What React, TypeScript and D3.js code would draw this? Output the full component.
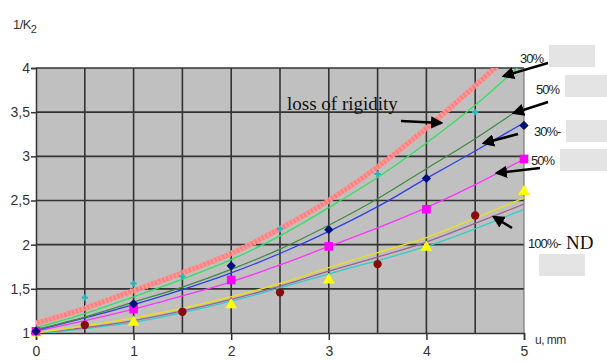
import React, { useEffect, useRef } from 'react';
import * as d3 from 'd3';

// x positions where the curves are read (u, mm)
const uSteps = [0, 0.5, 1, 1.5, 2, 2.5, 3, 3.5, 4, 4.5, 5];

// fitted curves (1/K2)
const lossOfRigidity = [1.11, 1.28, 1.48, 1.68, 1.9, 2.18, 2.5, 2.88, 3.32, 3.8, 4.3];
const green30 = [1.06, 1.22, 1.41, 1.61, 1.83, 2.1, 2.42, 2.76, 3.15, 3.58, 4.07];
const green50 = [1.04, 1.18, 1.35, 1.52, 1.72, 1.95, 2.22, 2.52, 2.86, 3.2, 3.57];
const blue30 = [1.03, 1.17, 1.32, 1.49, 1.68, 1.9, 2.15, 2.43, 2.75, 3.06, 3.38];
const magenta50 = [1.02, 1.14, 1.27, 1.42, 1.58, 1.77, 1.98, 2.19, 2.42, 2.68, 2.97];
const yellowND = [1.0, 1.08, 1.17, 1.28, 1.41, 1.56, 1.74, 1.91, 2.08, 2.3, 2.53];
const mauveND = [1.0, 1.06, 1.14, 1.25, 1.38, 1.53, 1.7, 1.86, 2.03, 2.24, 2.46];
const cyanND = [0.99, 1.05, 1.12, 1.23, 1.36, 1.51, 1.67, 1.82, 1.98, 2.18, 2.4];

// measured points
const diamondU = [0, 1, 2, 3, 4, 5];
const diamondV = [1.02, 1.33, 1.76, 2.17, 2.75, 3.35];
const squareU = [0, 1, 2, 3, 4, 5];
const squareV = [1.02, 1.27, 1.6, 1.98, 2.4, 2.97];
const triangleU = [0, 1, 2, 3, 4, 5];
const triangleV = [1.0, 1.12, 1.32, 1.6, 1.97, 2.6];
const circleU = [0, 0.5, 1.5, 2.5, 3.5, 4.5];
const circleV = [1.02, 1.09, 1.24, 1.46, 1.78, 2.33];
const crossU = [0.5, 1.5, 2.5, 3.5, 4.5];
const crossV = [1.17, 1.53, 1.91, 2.55, 3.14];
const plusU = [0.5, 1, 1.5, 2.5, 3.5, 4.5];
const plusV = [1.4, 1.56, 1.64, 2.18, 2.8, 3.5];

const yTicks = [1, 1.5, 2, 2.5, 3, 3.5, 4];
const yTickLabels = ['1', '1,5', '2', '2,5', '3', '3,5', '4'];
const xTicks = [0, 1, 2, 3, 4, 5];

const App = () => {
  const ref = useRef<SVGSVGElement>(null);

  useEffect(() => {
    const svg = d3.select(ref.current);
    svg.selectAll('*').remove();

    const x = d3.scaleLinear().domain([0, 5]).range([36, 524]);
    const y = d3.scaleLinear().domain([1, 4]).range([333, 68]);

    svg.append('defs').append('clipPath').attr('id', 'plot')
      .append('rect').attr('x', 36).attr('y', 68).attr('width', 488).attr('height', 265);
    const arrow = svg.select('defs').append('marker')
      .attr('id', 'arrow')
      .attr('viewBox', '0 -5 10 10')
      .attr('refX', 8)
      .attr('markerWidth', 5)
      .attr('markerHeight', 5)
      .attr('orient', 'auto');
    arrow.append('path').attr('d', 'M0,-5L10,0L0,5').attr('fill', '#000');

    // plot background
    svg.append('rect')
      .attr('x', x(0)).attr('y', y(4))
      .attr('width', x(5) - x(0)).attr('height', y(1) - y(4))
      .attr('fill', '#c0c0c0');

    // grid
    const grid = svg.append('g').attr('stroke', '#333').attr('stroke-width', 1.6);
    d3.range(0.5, 5, 0.5).forEach(v => {
      grid.append('line').attr('x1', x(v)).attr('x2', x(v)).attr('y1', y(4)).attr('y2', y(1));
    });
    yTicks.slice(1).forEach(v => {
      grid.append('line').attr('x1', x(0)).attr('x2', x(5)).attr('y1', y(v)).attr('y2', y(v));
    });
    svg.append('line').attr('x1', x(5)).attr('x2', x(5)).attr('y1', y(4)).attr('y2', y(1))
      .attr('stroke', '#666').attr('stroke-width', 1);

    // axes
    const axisY = svg.append('g').attr('transform', `translate(${x(0)},0)`)
      .call(d3.axisLeft(y).tickValues(yTicks).tickSize(5).tickFormat((d, i) => yTickLabels[i]));
    axisY.select('.domain').attr('stroke', '#333').attr('stroke-width', 1.5);
    axisY.selectAll('line').attr('stroke', '#333').attr('stroke-width', 1.5);
    axisY.selectAll('text')
      .attr('font-family', 'Arial, Liberation Sans, sans-serif')
      .attr('font-size', 14).attr('fill', '#333').attr('dx', '2');

    const axisX = svg.append('g').attr('transform', `translate(0,${y(1)})`)
      .call(d3.axisBottom(x).tickValues(xTicks).tickSize(7).tickFormat(d3.format('d')));
    axisX.select('.domain').attr('stroke', '#333').attr('stroke-width', 1.5);
    axisX.selectAll('line').attr('stroke', '#333').attr('stroke-width', 1.5);
    axisX.selectAll('text')
      .attr('font-family', 'Arial, Liberation Sans, sans-serif')
      .attr('font-size', 14).attr('fill', '#333').attr('dy', '0.9em');

    // curves
    const plot = svg.append('g').attr('clip-path', 'url(#plot)');
    const line = d3.line<number>()
      .x((d, i) => x(uSteps[i]))
      .y(d => y(d))
      .curve(d3.curveMonotoneX);
    const curves: [number[], string, number][] = [
      [cyanND, '#33cccc', 1.3],
      [mauveND, '#a0608f', 1.3],
      [yellowND, '#e8e020', 1.4],
      [magenta50, '#ff33ff', 1.3],
      [blue30, '#2f3fe8', 1.3],
      [green50, '#3d8a40', 1.2],
      [green30, '#33e05a', 1.3],
    ];
    curves.forEach(([data, color, w]) => {
      plot.append('path').attr('d', line(data)).attr('fill', 'none')
        .attr('stroke', color).attr('stroke-width', w);
    });
    plot.append('path').attr('d', line(lossOfRigidity)).attr('fill', 'none')
      .attr('stroke', '#ff7b7b').attr('stroke-width', 5).attr('opacity', 0.9);
    plot.append('path').attr('d', line(lossOfRigidity)).attr('fill', 'none')
      .attr('stroke', '#ff9c9c').attr('stroke-width', 6).attr('stroke-dasharray', '1.5 2.5');

    // markers
    const pts = svg.append('g');
    const sym = (us: number[], vs: number[], type: d3.SymbolType, size: number, fill: string) => {
      pts.selectAll(null).data(us).enter().append('path')
        .attr('transform', (d, i) => `translate(${x(d)},${y(vs[i])})`)
        .attr('d', d3.symbol(type, size)())
        .attr('fill', fill);
    };
    sym(plusU, plusV, d3.symbolCross, 22, '#20b8c0');
    sym(crossU, crossV, d3.symbolX, 20, '#7a2a8a');
    sym(circleU, circleV, d3.symbolCircle, 55, '#8b0a0a');
    sym(triangleU, triangleV, d3.symbolTriangle, 60, '#ffff00');
    sym(squareU, squareV, d3.symbolSquare, 75, '#ff00ff');
    sym(diamondU, diamondV, d3.symbolDiamond2, 55, '#00107a');

    // axis titles
    const yTitle = svg.append('text').attr('x', 13).attr('y', 29)
      .attr('font-family', 'Arial, Liberation Sans, sans-serif').attr('font-size', 13)
      .attr('fill', '#333').attr('letter-spacing', '-0.6');
    yTitle.append('tspan').text('1/K');
    yTitle.append('tspan').attr('font-size', 11).attr('dy', 4).text('2');
    svg.append('text').attr('x', 535).attr('y', 344)
      .attr('font-family', 'Arial, Liberation Sans, sans-serif').attr('font-size', 12)
      .attr('fill', '#333').attr('letter-spacing', '-0.5').text('u, mm');

    // annotations
    const labels: [number, number, string][] = [
      [520, 63, '30%'],
      [536, 94, '50%'],
      [534, 136, '30%-'],
      [531, 165, '50%'],
      [528, 248, '100%-'],
    ];
    labels.forEach(([lx, ly, t]) => {
      svg.append('text').attr('x', lx).attr('y', ly)
        .attr('font-family', 'Arial, Liberation Sans, sans-serif').attr('font-size', 13)
        .attr('letter-spacing', '-1').attr('fill', '#222').text(t);
    });
    svg.append('text').attr('x', 566).attr('y', 249)
      .attr('font-family', 'Times New Roman, Liberation Serif, serif').attr('font-size', 19)
      .attr('fill', '#111').text('ND');
    svg.append('text').attr('x', 287).attr('y', 110)
      .attr('font-family', 'Times New Roman, Liberation Serif, serif').attr('font-size', 19)
      .attr('fill', '#111').text('loss of rigidity');

    const boxes: [number, number, number, number][] = [
      [549, 45, 46, 22],
      [565, 75, 42, 22],
      [566, 120, 41, 22],
      [560, 149, 47, 22],
      [539, 254, 46, 22],
    ];
    boxes.forEach(([bx, by, bw, bh]) => {
      svg.append('rect').attr('x', bx).attr('y', by).attr('width', bw).attr('height', bh)
        .attr('fill', '#e4e4e4');
    });

    const arrows: [number, number, number, number][] = [
      [548, 63, 504, 76],
      [548, 102, 514, 113],
      [518, 134, 484, 143],
      [540, 168, 497, 173],
      [512, 228, 494, 217],
      [401, 121, 441, 123],
    ];
    arrows.forEach(([x1, y1, x2, y2]) => {
      svg.append('line').attr('x1', x1).attr('y1', y1).attr('x2', x2).attr('y2', y2)
        .attr('stroke', '#000').attr('stroke-width', 2.5).attr('marker-end', 'url(#arrow)');
    });
  }, []);

  return (
    <svg ref={ref} width={607} height={362}
      style={{ position: 'absolute', left: 0, top: 0, background: '#fff' }} />
  );
};

export default App;
